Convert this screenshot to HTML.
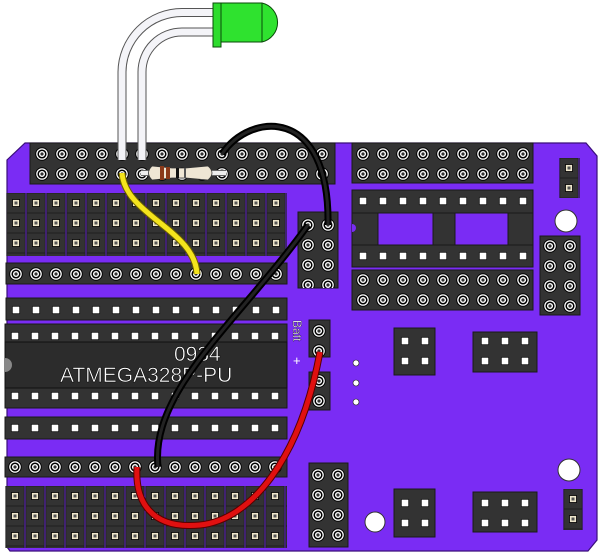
<!DOCTYPE html>
<html><head><meta charset="utf-8"><style>html,body{margin:0;padding:0;background:#fff;width:600px;height:557px;overflow:hidden}</style></head>
<body>
<svg width="600" height="557" viewBox="0 0 600 557" xmlns="http://www.w3.org/2000/svg" xmlns:xlink="http://www.w3.org/1999/xlink">
<defs>
<pattern id="R" width="20" height="20" patternUnits="userSpaceOnUse">
  <circle cx="10" cy="10" r="6.3" fill="#fff" stroke="#000" stroke-width="1"/>
  <circle cx="10" cy="10" r="3.8" fill="none" stroke="#000" stroke-width="1.5"/>
  <circle cx="10" cy="10" r="1.6" fill="#333"/>
</pattern>
<pattern id="S" width="20" height="20" patternUnits="userSpaceOnUse">
  <rect x="6.3" y="6.3" width="7.4" height="7.4" fill="#fff" stroke="#111" stroke-width="0.8"/>
</pattern>
<pattern id="C" width="20" height="20" patternUnits="userSpaceOnUse">
  <rect x="0.8" y="0" width="18.4" height="20" fill="#333" stroke="#1a1a1a" stroke-width="0.8"/>
  <rect x="6.5" y="6.5" width="7" height="7" fill="#eee6cc" stroke="#000" stroke-width="0.8"/>
  <rect x="8.5" y="8.5" width="3" height="3" fill="#555"/>
</pattern>
<pattern id="r1" href="#R" xlink:href="#R" x="32" y="144"/>
<pattern id="r2" href="#R" xlink:href="#R" x="6" y="264"/>
<pattern id="r3" href="#R" xlink:href="#R" x="5" y="457"/>
<pattern id="r4" href="#R" xlink:href="#R" x="353" y="144"/>
<pattern id="r5" href="#R" xlink:href="#R" x="353" y="270"/>
<pattern id="r6" href="#R" xlink:href="#R" x="540" y="236"/>
<pattern id="r7" href="#R" xlink:href="#R" x="298" y="215"/>
<pattern id="r8" href="#R" xlink:href="#R" x="309" y="321"/>
<pattern id="r9" href="#R" xlink:href="#R" x="309" y="371"/>
<pattern id="r10" href="#R" xlink:href="#R" x="308" y="465"/>
<pattern id="s1" href="#S" xlink:href="#S" x="6" y="300"/>
<pattern id="s2" href="#S" xlink:href="#S" x="5" y="326"/>
<pattern id="s3" href="#S" xlink:href="#S" x="5" y="386"/>
<pattern id="s4" href="#S" xlink:href="#S" x="5" y="418"/>
<pattern id="s5" href="#S" xlink:href="#S" x="353" y="191"/>
<pattern id="s6" href="#S" xlink:href="#S" x="353" y="246"/>
<pattern id="s7" href="#S" xlink:href="#S" x="395" y="331"/>
<pattern id="s8" href="#S" xlink:href="#S" x="475" y="331"/>
<pattern id="s9" href="#S" xlink:href="#S" x="395" y="493"/>
<pattern id="s10" href="#S" xlink:href="#S" x="475" y="493"/>
<pattern id="c1" href="#C" xlink:href="#C" x="6" y="193"/>
<pattern id="c2" href="#C" xlink:href="#C" x="5" y="486"/>
<pattern id="c3" href="#C" xlink:href="#C" x="559" y="158"/>
<pattern id="c4" href="#C" xlink:href="#C" x="563" y="489"/>
</defs>

<path d="M25,143 L586,143 L597,156 L597,540 L588,551 L10,551 L7,547 L7,160 Z" fill="#7a2cf4" stroke="#3a0f7a" stroke-width="1.2"/>

<rect x="30" y="143" width="305" height="41" fill="#333" stroke="#1a1a1a"/>
<rect x="30" y="143" width="305" height="41" fill="url(#r1)"/>
<rect x="6" y="193" width="281" height="63" fill="url(#c1)"/>
<rect x="6" y="263" width="281" height="21" fill="#333" stroke="#1a1a1a"/>
<rect x="6" y="263" width="281" height="21" fill="url(#r2)"/>
<rect x="6" y="298" width="281" height="22" fill="#333" stroke="#1a1a1a"/>
<rect x="6" y="298" width="281" height="22" fill="url(#s1)"/>
<rect x="5" y="324" width="282" height="84" fill="#333" stroke="#1a1a1a"/>
<rect x="5" y="326" width="282" height="20" fill="url(#s2)"/>
<rect x="5" y="386" width="282" height="20" fill="url(#s3)"/>
<rect x="5" y="342" width="282" height="46" fill="#2c2c2c" stroke="#111"/>
<path d="M5,358 A7,7 0 0 1 5,372 Z" fill="#888"/>
<text x="174" y="361" font-family="Liberation Sans, sans-serif" font-size="21" fill="#fff" stroke="#000" stroke-width="0.5">0934</text>
<text x="60" y="382" font-family="Liberation Sans, sans-serif" font-size="21" fill="#fff" stroke="#000" stroke-width="0.5">ATMEGA328P-PU</text>
<rect x="5" y="417" width="282" height="22" fill="#333" stroke="#1a1a1a"/>
<rect x="5" y="417" width="282" height="22" fill="url(#s4)"/>
<rect x="5" y="457" width="282" height="20" fill="#333" stroke="#1a1a1a"/>
<rect x="5" y="457" width="282" height="20" fill="url(#r3)"/>
<rect x="5" y="486" width="282" height="62" fill="url(#c2)"/>

<rect x="352" y="143" width="181" height="40" fill="#333" stroke="#1a1a1a"/>
<rect x="352" y="143" width="181" height="40" fill="url(#r4)"/>
<rect x="352" y="190" width="181" height="23" fill="#333" stroke="#1a1a1a"/>
<rect x="352" y="190" width="181" height="23" fill="url(#s5)"/>
<rect x="352" y="213" width="26" height="32" fill="#333" stroke="#1a1a1a"/>
<rect x="433" y="213" width="22" height="32" fill="#333" stroke="#1a1a1a"/>
<rect x="508" y="213" width="25" height="32" fill="#333" stroke="#1a1a1a"/>
<path d="M352,224 A4,4 0 0 1 352,232 Z" fill="#7a2cf4"/>
<rect x="352" y="245" width="181" height="22" fill="#333" stroke="#1a1a1a"/>
<rect x="352" y="245" width="181" height="22" fill="url(#s6)"/>
<rect x="352" y="270" width="181" height="40" fill="#333" stroke="#1a1a1a"/>
<rect x="352" y="270" width="181" height="40" fill="url(#r5)"/>
<rect x="559" y="158" width="21" height="40" fill="url(#c3)"/>
<circle cx="566" cy="221" r="11" fill="#fff" stroke="#333"/>
<rect x="540" y="236" width="40" height="79" fill="#333" stroke="#1a1a1a"/>
<rect x="540" y="236" width="40" height="79" fill="url(#r6)"/>
<rect x="298" y="212" width="40" height="76" fill="#333" stroke="#1a1a1a"/>
<rect x="298" y="212" width="40" height="76" fill="url(#r7)"/>
<rect x="309" y="320" width="21" height="37" fill="#333" stroke="#1a1a1a"/>
<rect x="309" y="320" width="21" height="37" fill="url(#r8)"/>
<rect x="309" y="372" width="21" height="38" fill="#333" stroke="#1a1a1a"/>
<rect x="309" y="372" width="21" height="38" fill="url(#r9)"/>
<text transform="translate(293,320) rotate(90)" font-family="Liberation Sans, sans-serif" font-size="12" fill="#fff" stroke="#000" stroke-width="0.3">Batt</text>
<text x="293" y="365" font-family="Liberation Sans, sans-serif" font-size="13" fill="#fff">+</text>
<circle cx="356" cy="363" r="3" fill="#fff" stroke="#222" stroke-width="0.6"/>
<circle cx="356" cy="383" r="3" fill="#fff" stroke="#222" stroke-width="0.6"/>
<circle cx="356" cy="402" r="3" fill="#fff" stroke="#222" stroke-width="0.6"/>
<rect x="394" y="328" width="41" height="47" fill="#333" stroke="#1a1a1a"/>
<rect x="394" y="328" width="41" height="47" fill="url(#s7)"/>
<rect x="473" y="332" width="64" height="40" fill="#333" stroke="#1a1a1a"/>
<rect x="473" y="332" width="64" height="40" fill="url(#s8)"/>
<rect x="394" y="489" width="41" height="48" fill="#333" stroke="#1a1a1a"/>
<rect x="394" y="489" width="41" height="48" fill="url(#s9)"/>
<rect x="473" y="492" width="64" height="40" fill="#333" stroke="#1a1a1a"/>
<rect x="473" y="492" width="64" height="40" fill="url(#s10)"/>
<rect x="309" y="463" width="39" height="84" fill="#333" stroke="#1a1a1a"/>
<rect x="309" y="463" width="39" height="84" fill="url(#r10)"/>
<circle cx="375" cy="522" r="10" fill="#fff" stroke="#333"/>
<circle cx="569" cy="470" r="11" fill="#fff" stroke="#333"/>
<rect x="563" y="489" width="20" height="41" fill="url(#c4)"/>

<path d="M122,160 L122,72 A60,60 0 0 1 182,12.5 L215,12.5" fill="none" stroke="#555" stroke-width="9"/>
<path d="M122,160 L122,72 A60,60 0 0 1 182,12.5 L215,12.5" fill="none" stroke="#f4f4f8" stroke-width="7"/>
<path d="M142,160 L142,72 A40,40 0 0 1 182,32 L215,32" fill="none" stroke="#555" stroke-width="9"/>
<path d="M142,160 L142,72 A40,40 0 0 1 182,32 L215,32" fill="none" stroke="#f4f4f8" stroke-width="7"/>
<path d="M220,3 L262,3 A20,20 0 0 1 262,42 L220,42 Z" fill="#2fe22f" stroke="#0a4a0a"/>
<rect x="213" y="3" width="8" height="44" fill="#2ddc2d" stroke="#0a4a0a"/>
<line x1="262" y1="3" x2="262" y2="42" stroke="#0a4a0a"/>

<line x1="141" y1="173" x2="226" y2="173" stroke="#666" stroke-width="6"/>
<line x1="141" y1="173" x2="226" y2="173" stroke="#eee" stroke-width="4"/>
<path d="M152,166 L172,168 L186,168 L208,166 Q216,173 208,180 L186,178 L172,178 L152,180 Q145,173 152,166 Z" fill="#efe6d4" stroke="#333" stroke-width="0.8"/>
<rect x="160" y="166" width="4" height="14" fill="#8a3a1a"/>
<rect x="166" y="167" width="4" height="12" fill="#8a3a1a"/>
<rect x="176" y="168" width="3" height="10" fill="#111"/>
<rect x="184" y="168" width="2" height="10" fill="#555"/>

<path d="M122,173 C125,215 195,230 197,274" fill="none" stroke="#6b5e00" stroke-width="7"/>
<path d="M122,173 C125,215 195,230 197,274" fill="none" stroke="#f4e41c" stroke-width="5"/>
<path d="M222,154 C250,112 330,105 328,225" fill="none" stroke="#000" stroke-width="7"/>
<path d="M222,154 C250,112 330,105 328,225" fill="none" stroke="#222" stroke-width="3"/>
<path d="M308,225 C240,320 150,390 158,467" fill="none" stroke="#000" stroke-width="7"/>
<path d="M308,225 C240,320 150,390 158,467" fill="none" stroke="#222" stroke-width="3"/>
<path d="M320,352 C300,460 250,520 200,525 C150,530 135,500 137,467" fill="none" stroke="#500" stroke-width="7"/>
<path d="M320,352 C300,460 250,520 200,525 C150,530 135,500 137,467" fill="none" stroke="#e01010" stroke-width="5"/>
</svg>
</body></html>
